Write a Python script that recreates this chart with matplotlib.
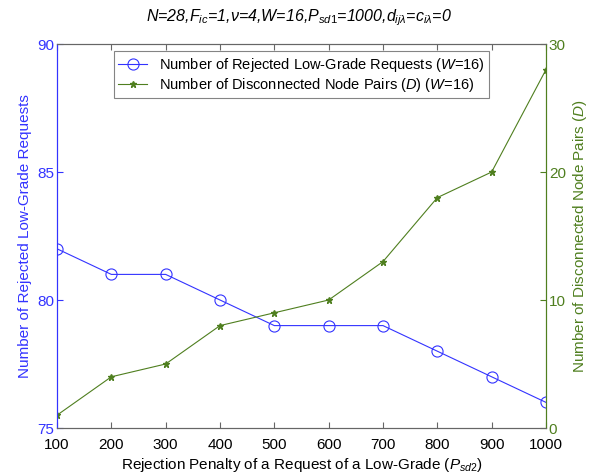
import matplotlib
matplotlib.use('Agg')
import matplotlib.pyplot as plt

plt.rcParams['font.family'] = ['Liberation Sans', 'DejaVu Sans']
plt.rcParams['mathtext.fontset'] = 'custom'
plt.rcParams['mathtext.rm'] = 'Liberation Sans'
plt.rcParams['mathtext.it'] = 'Liberation Sans:italic'

penalty = [100, 200, 300, 400, 500, 600, 700, 800, 900, 1000]
rejected = [82, 81, 81, 80, 79, 79, 79, 78, 77, 76]
disconnected = [1, 4, 5, 8, 9, 10, 13, 18, 20, 28]

blue = '#3333ff'
green = '#4f7f1f'
gray = '#666666'

fig = plt.figure(figsize=(5.97, 4.76), dpi=100)
ax = fig.add_axes([57 / 597, 1 - 428 / 476, (546 - 57) / 597, (428 - 44) / 476])
ax2 = ax.twinx()

l1, = ax.plot(penalty, rejected, color=blue, lw=0.8, marker='o', ms=8,
              mfc='none', mec=blue, mew=0.8,
              label='Number of Rejected Low-Grade Requests ($\\it{W}$=16)')
l2, = ax2.plot(penalty, disconnected, color=green, lw=0.8, marker='*', ms=5,
               mec=green, mfc=green,
               label='Number of Disconnected Node Pairs ($\\it{D}$) ($\\it{W}$=16)')

ax.set_xlim(100, 1000)
ax.set_ylim(75, 90)
ax2.set_ylim(0, 30)
ax.set_xticks(penalty)
ax.set_yticks([75, 80, 85, 90])
ax2.set_yticks([0, 10, 20, 30])

ax.tick_params(axis='x', direction='in', top=True, colors='black', labelsize=11,
               length=4, color=gray, pad=7)
ax.tick_params(axis='y', direction='in', colors=blue, labelsize=11, length=4, pad=2)
ax2.tick_params(axis='y', direction='in', colors=green, labelsize=11, length=4, pad=2)

for a in (ax, ax2):
    a.spines['top'].set_color(gray)
    a.spines['bottom'].set_color(gray)
    a.spines['left'].set_color(blue)
    a.spines['right'].set_color(green)

ax.set_xlabel('Rejection Penalty of a Request of a Low-Grade ($\\it{P}_{\\it{sd2}}$)',
              fontsize=11, labelpad=3)
ax.set_ylabel('Number of Rejected Low-Grade Requests', color=blue, fontsize=11)
ax2.set_ylabel('Number of Disconnected Node Pairs ($\\it{D}$)', color=green, fontsize=11)

fig.text(0.5, 0.962,
         '$\\it{N}$=28,$\\it{F}_{\\it{ic}}$=1,$\\nu$=4,$\\it{W}$=16,$\\it{P}_{\\it{sd1}}$=1000,'
         '$\\it{d}_{\\it{ij\\lambda}}$=$\\it{c}_{\\it{i\\lambda}}$=0',
         ha='center', va='center', fontsize=11.5, style='italic')

leg = ax.legend(handles=[l1, l2], loc='upper center', bbox_to_anchor=(0.5, 1.0),
                fontsize=10.5, frameon=True, fancybox=False, edgecolor=gray,
                borderpad=0.3, handlelength=2.0, labelspacing=0.15)
leg.get_frame().set_linewidth(0.8)

fig.savefig('out.png', dpi=100)
